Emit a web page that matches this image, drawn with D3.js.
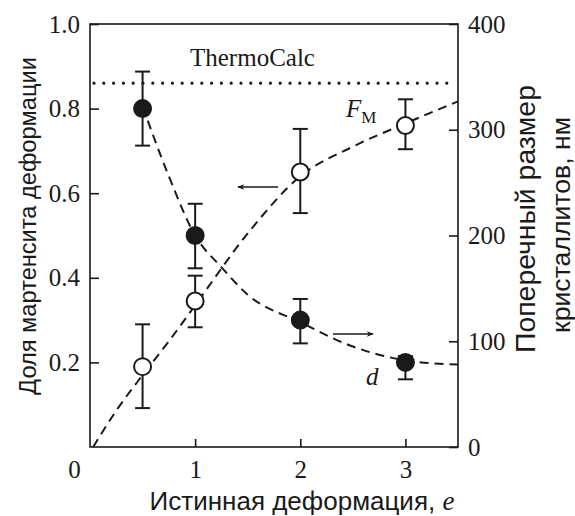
<!DOCTYPE html>
<html>
<head>
<meta charset="utf-8">
<script src="https://d3js.org/d3.v7.min.js"></script>
<style>
body { margin: 0; background: white; }
text { font-family: "Liberation Serif", "DejaVu Serif", "Times New Roman", serif; fill: #1a1a1a; }
</style>
</head>
<body>
<div id="chart"></div>
<script>
// data
var strain = [0.5, 1, 2, 3];
var fmVals = [0.19, 0.345, 0.65, 0.76];
var fmLow = [0.092, 0.283, 0.553, 0.704];
var fmHigh = [0.29, 0.405, 0.752, 0.822];
var dVals = [320, 200, 120, 80];
var dLow = [285, 169, 98, 64];
var dHigh = [355, 230, 140, 86];
var fmCurve = [[0.03, 0], [0.25, 0.086], [0.5, 0.17], [0.75, 0.25], [1, 0.335], [1.5, 0.505], [2, 0.64], [2.5, 0.71], [3, 0.765], [3.5, 0.817]];
var dCurve = [[0.5, 322], [0.75, 256], [1, 200], [1.25, 170], [1.5, 144], [2, 118], [2.5, 95], [3, 82], [3.5, 78]];
var thermoCalc = 0.86;
var xTicks = [0, 1, 2, 3];
var leftTicks = [0.2, 0.4, 0.6, 0.8, 1.0];
var rightTicks = [0, 100, 200, 300, 400];

var W = 575, H = 516;
var pLeft = 90, pRight = 458, pTop = 24, pBottom = 447;
var ink = "#1a1a1a";
var serif = "'Liberation Serif', 'DejaVu Serif', 'Times New Roman', serif";
var cyr = "'Liberation Sans', 'DejaVu Sans', sans-serif";

var svg = d3.select("#chart").append("svg").attr("width", W).attr("height", H);

var x = d3.scaleLinear().domain([0, 3.5]).range([pLeft, pRight]);
var yL = d3.scaleLinear().domain([0, 1]).range([pBottom, pTop]);
var yR = d3.scaleLinear().domain([0, 400]).range([pBottom, pTop]);

// frame
svg.append("rect").attr("x", pLeft).attr("y", pTop).attr("width", pRight - pLeft).attr("height", pBottom - pTop)
	.attr("fill", "none").attr("stroke", ink).attr("stroke-width", 1.6);

function styleAxis (g) {
	g.select(".domain").remove();
	g.selectAll("line").attr("stroke", ink).attr("stroke-width", 1.6);
	g.selectAll("text").attr("font-size", 25).attr("fill", ink).style("font-family", serif);
}

var xAxis = svg.append("g").attr("transform", "translate(0," + pBottom + ")")
	.call(d3.axisBottom(x).tickValues(xTicks).tickSizeInner(-8).tickSizeOuter(0).tickPadding(13).tickFormat(d3.format("d")));
styleAxis(xAxis);
xAxis.selectAll(".tick").filter(function (d) { return d == 0; }).each(function () {
	d3.select(this).select("line").remove();
	d3.select(this).select("text").attr("dx", -16);
});

var lAxis = svg.append("g").attr("transform", "translate(" + pLeft + ",0)")
	.call(d3.axisLeft(yL).tickValues(leftTicks).tickSizeInner(-9).tickSizeOuter(0).tickPadding(10).tickFormat(d3.format(".1f")));
styleAxis(lAxis);

var rAxis = svg.append("g").attr("transform", "translate(" + pRight + ",0)")
	.call(d3.axisRight(yR).tickValues(rightTicks).tickSizeInner(-9).tickSizeOuter(0).tickPadding(10).tickFormat(d3.format("d")));
styleAxis(rAxis);

// ThermoCalc level
svg.append("line").attr("x1", pLeft + 4).attr("x2", pRight - 3).attr("y1", yL(thermoCalc)).attr("y2", yL(thermoCalc))
	.attr("stroke", ink).attr("stroke-width", 3.2).attr("stroke-linecap", "round").attr("stroke-dasharray", "0,9.8");
svg.append("text").attr("x", 190).attr("y", 66).attr("font-size", 25).text("ThermoCalc");

// fitted curves
var lineL = d3.line().x(function (d) { return x(d[0]); }).y(function (d) { return yL(d[1]); }).curve(d3.curveMonotoneX);
var lineR = d3.line().x(function (d) { return x(d[0]); }).y(function (d) { return yR(d[1]); }).curve(d3.curveMonotoneX);
svg.append("path").attr("d", lineL(fmCurve)).attr("fill", "none").attr("stroke", ink).attr("stroke-width", 2).attr("stroke-dasharray", "9,6");
svg.append("path").attr("d", lineR(dCurve)).attr("fill", "none").attr("stroke", ink).attr("stroke-width", 2).attr("stroke-dasharray", "9,6");

// error bars + markers
function drawSeries (vals, lo, hi, y, fill) {
	var g = svg.append("g");
	strain.forEach(function (e, i) {
		var cx = x(e);
		g.append("line").attr("x1", cx).attr("x2", cx).attr("y1", y(lo[i])).attr("y2", y(hi[i])).attr("stroke", ink).attr("stroke-width", 2);
		[lo[i], hi[i]].forEach(function (v) {
			g.append("line").attr("x1", cx - 7.5).attr("x2", cx + 7.5).attr("y1", y(v)).attr("y2", y(v)).attr("stroke", ink).attr("stroke-width", 2);
		});
		g.append("circle").attr("cx", cx).attr("cy", y(vals[i])).attr("r", 8.5)
			.attr("fill", fill).attr("stroke", ink).attr("stroke-width", 2);
	});
}
drawSeries(fmVals, fmLow, fmHigh, yL, "white");
drawSeries(dVals, dLow, dHigh, yR, ink);

// arrows
svg.append("defs").append("marker").attr("id", "head").attr("viewBox", "0 0 10 10").attr("refX", 9).attr("refY", 5)
	.attr("markerWidth", 7).attr("markerHeight", 7).attr("markerUnits", "userSpaceOnUse").attr("orient", "auto")
	.append("path").attr("d", "M0,1 L10,5 L0,9 L3,5 Z").attr("fill", ink);
svg.append("line").attr("x1", 278).attr("x2", 238).attr("y1", 187).attr("y2", 187)
	.attr("stroke", ink).attr("stroke-width", 1.4).attr("marker-end", "url(#head)");
svg.append("line").attr("x1", 333).attr("x2", 373).attr("y1", 334).attr("y2", 334)
	.attr("stroke", ink).attr("stroke-width", 1.4).attr("marker-end", "url(#head)");

// series labels
var fmLabel = svg.append("text").attr("x", 346).attr("y", 117).attr("font-size", 25);
fmLabel.append("tspan").attr("font-style", "italic").text("F");
fmLabel.append("tspan").attr("font-size", 17).attr("dy", 6).text("M");
svg.append("text").attr("x", 366).attr("y", 385).attr("font-size", 25).attr("font-style", "italic").text("d");

// axis titles, sized to the span they take in the figure
function fitText (t, len) {
	var w = t.node().getComputedTextLength();
	t.attr("font-size", 25 * len / w);
	return t;
}
svg.append("text").attr("x", 302).attr("y", 510).attr("text-anchor", "middle").attr("font-size", 26).style("font-family", cyr)
	.html("Истинная деформация, <tspan font-style='italic' style=\"font-family:'Liberation Serif'\" font-size='27'>e</tspan>");
fitText(svg.append("text").attr("transform", "translate(36,226) rotate(-90)").attr("text-anchor", "middle")
	.attr("font-size", 25).style("font-family", cyr).text("Доля мартенсита деформации"), 338);
fitText(svg.append("text").attr("transform", "translate(535,219) rotate(-90)").attr("text-anchor", "middle")
	.attr("font-size", 25).style("font-family", cyr).text("Поперечный размер"), 268);
fitText(svg.append("text").attr("transform", "translate(570,225) rotate(-90)").attr("text-anchor", "middle")
	.attr("font-size", 25).style("font-family", cyr).text("кристаллитов, нм"), 216);
</script>
</body>
</html>
